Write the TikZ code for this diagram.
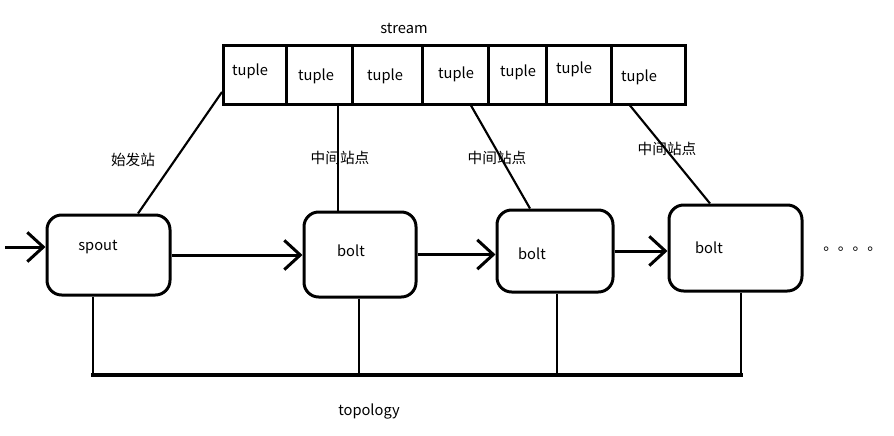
\documentclass[tikz,border=0pt]{standalone}
\usepackage{fontspec}
\setmainfont{Noto Sans CJK SC}
\usetikzlibrary{arrows.meta,calc}
\begin{document}
\begin{tikzpicture}[x=0.75pt,y=-0.75pt,
  box/.style={draw,line width=2.25pt,rounded corners=11pt,inner sep=0pt},
  cell/.style={draw,line width=2.25pt,inner sep=0pt,minimum height=44.25pt},
  lbl/.style={font=\fontsize{11}{13}\selectfont,inner sep=0pt},
  link/.style={line width=1.6pt},
  bus/.style={line width=2.4pt},
  arr/.style={line width=2.25pt,-{Straight Barb[length=12pt,width=22pt]}},
]
\useasboundingbox (0,0) rectangle (894,436);
% stream cells
\node[cell,minimum width=47.25pt] (c1) at (254.5,74.5) {};
\node[cell,minimum width=49.5pt] (c2) at (319,74.5) {};
\node[cell,minimum width=52.5pt] (c3) at (387,74.5) {};
\node[cell,minimum width=49.5pt] (c4) at (455,74.5) {};
\node[cell,minimum width=43.5pt] (c5) at (517,74.5) {};
\node[cell,minimum width=48.75pt] (c6) at (578.5,74.5) {};
\node[cell,minimum width=55.5pt] (c7) at (648,74.5) {};
\node[lbl] (t1) at (250,71) {tuple};
\node[lbl] (t2) at (316,76) {tuple};
\node[lbl] (t3) at (385,76) {tuple};
\node[lbl] (t4) at (456,74) {tuple};
\node[lbl] (t5) at (518,72) {tuple};
\node[lbl] (t6) at (574,69) {tuple};
\node[lbl] (t7) at (639,77) {tuple};
\node[lbl] (stream) at (404,28) {stream};
% boxes
\node[box,minimum width=92.25pt,minimum height=60pt] (spout) at (108.5,255) {};
\node[box,minimum width=84pt,minimum height=63.75pt] (bolt1) at (360,254.5) {};
\node[box,minimum width=87pt,minimum height=61.5pt] (bolt2) at (555,251) {};
\node[box,minimum width=99.75pt,minimum height=64.5pt] (bolt3) at (735.5,248) {};
\node[lbl] (spoutl) at (98,247) {spout};
\node[lbl] (bolt1l) at (351,251) {bolt};
\node[lbl] (bolt2l) at (532,254) {bolt};
\node[lbl] (bolt3l) at (709,248) {bolt};
% station labels
\node[lbl] (s0) at (133,160) {始发站};
\node[lbl] (s1) at (340,158) {中间站点};
\node[lbl] (s2) at (497,158) {中间站点};
\node[lbl] (s3) at (667,149) {中间站点};
% dots
\node[lbl,anchor=base west] (dots) at (823,250) {。。。。};
% input arrow
\coordinate (in) at (5,247);
\draw[arr] (in) -- (spout.west |- in);
\draw[arr] (spout.east) -- (bolt1.west |- spout.east);
\draw[arr] (bolt1.east) -- (bolt2.west |- bolt1.east);
\draw[arr] (bolt2.east) -- (bolt3.west |- bolt2.east);
% stream links
\coordinate (p0) at (222,92);
\draw[link] (p0) -- ($(spout.north)+(29.5,0)$);
\draw[link] ($(c2.south)+(19,0)$) -- ($(bolt1.north)+(-22,0)$);
\draw[link] ($(c4.south)+(16,0)$) -- ($(bolt2.north)+(-25,0)$);
\draw[link] ($(c7.south)+(-18,0)$) -- ($(bolt3.north)+(-25.5,0)$);
% topology bus
\coordinate (busL) at (91,375);
\coordinate (busR) at (743,375);
\coordinate (v0) at ($(spout.south)+(-15.5,0)$);
\coordinate (v1) at ($(bolt1.south)+(-1,0)$);
\coordinate (v2) at ($(bolt2.south)+(2,0)$);
\coordinate (v3) at ($(bolt3.south)+(5.5,0)$);
\draw[link] (v0) -- (v0 |- busL);
\draw[link] (v1) -- (v1 |- busL);
\draw[link] (v2) -- (v2 |- busL);
\draw[link] (v3) -- (v3 |- busL);
\draw[bus] (busL) -- (busR);
\node[lbl] (topo) at (369,411) {topology};
\end{tikzpicture}
\end{document}
